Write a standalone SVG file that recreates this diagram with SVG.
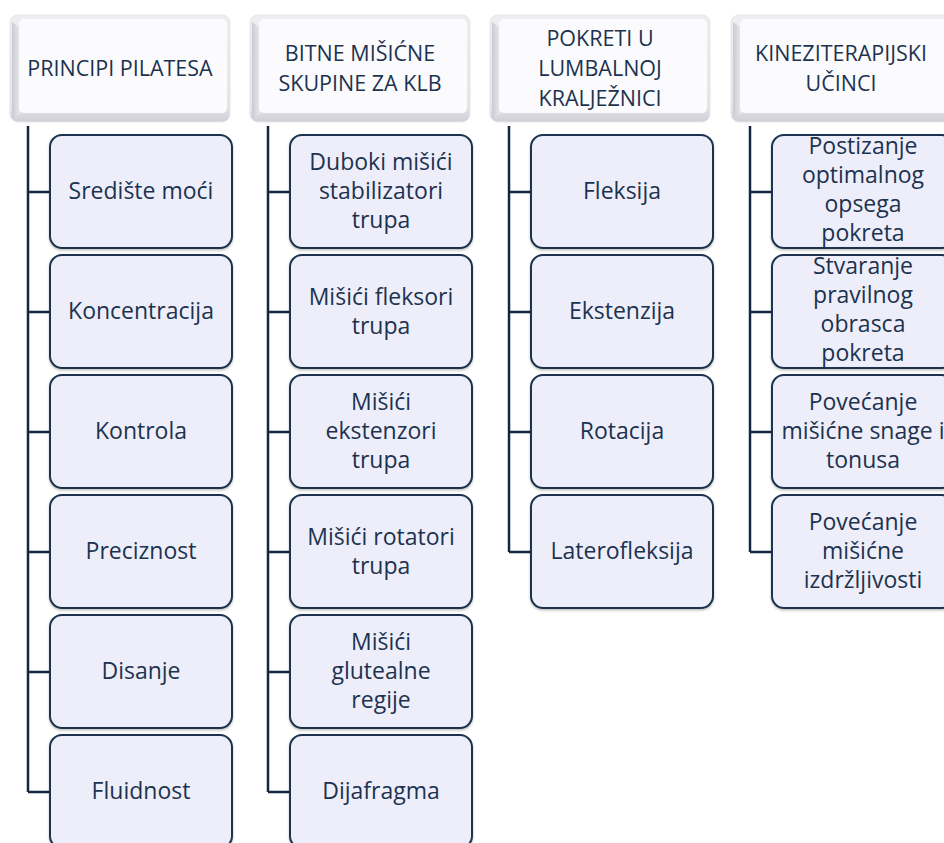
<svg xmlns="http://www.w3.org/2000/svg" width="944" height="843" viewBox="0 0 944 843">
<defs>
<linearGradient id="hb" x1="0" y1="0" x2="0" y2="1">
<stop offset="0" stop-color="#eeeef2"/>
<stop offset="0.85" stop-color="#e4e4e9"/>
<stop offset="1" stop-color="#cfcfd5"/>
</linearGradient>
<linearGradient id="hl" x1="0" y1="0" x2="1" y2="0">
<stop offset="0" stop-color="#cacad0"/>
<stop offset="1" stop-color="#ececf0"/>
</linearGradient>
<filter id="sh" x="-10%" y="-10%" width="120%" height="120%">
<feDropShadow dx="0" dy="1.5" stdDeviation="1.2" flood-color="#000" flood-opacity="0.25"/>
</filter>
</defs>
<style>
.hdr-o{fill:url(#hb);stroke:#e6e6ea;stroke-width:1}
.hdr-l{fill:url(#hl)}
.hdr-i{fill:#fbfbfd}
.box{fill:#eeeefa;stroke:#1c3350;stroke-width:2;filter:url(#sh)}
.t{font-family:"Open Sans","Noto Sans",sans-serif;font-size:23px;fill:#1c3350;text-anchor:middle}
.h{font-size:21.5px}
.c{fill:none;stroke:#102840;stroke-width:2.5}
</style>
<rect width="944" height="843" fill="#ffffff"/>

<g id="connectors">
<path class="c" d="M28,126 V792 M28,192 H50 M28,312 H50 M28,432 H50 M28,552 H50 M28,672 H50 M28,792 H50"/>
<path class="c" d="M268,126 V792 M268,192 H290 M268,312 H290 M268,432 H290 M268,552 H290 M268,672 H290 M268,792 H290"/>
<path class="c" d="M509,126 V552 M509,192 H531 M509,312 H531 M509,432 H531 M509,552 H531"/>
<path class="c" d="M750,126 V552 M750,192 H772 M750,312 H772 M750,432 H772 M750,552 H772"/>
</g>

<g id="h1">
<rect class="hdr-o" x="10" y="15" width="220" height="107" rx="8"/>
<path class="hdr-l" d="M12,22 L21,29 L21,113 L12,118 Z"/>
<rect class="hdr-i" x="19" y="19" width="208" height="94" rx="5"/>
<text class="t h" x="120" y="76">PRINCIPI PILATESA</text>
</g>
<g id="h2">
<rect class="hdr-o" x="250" y="15" width="220" height="107" rx="8"/>
<path class="hdr-l" d="M252,22 L261,29 L261,113 L252,118 Z"/>
<rect class="hdr-i" x="259" y="19" width="208" height="94" rx="5"/>
<text class="t h" x="360" y="61">BITNE MIŠIĆNE</text>
<text class="t h" x="360" y="91">SKUPINE ZA KLB</text>
</g>
<g id="h3">
<rect class="hdr-o" x="490" y="15" width="220" height="107" rx="8"/>
<path class="hdr-l" d="M492,22 L501,29 L501,113 L492,118 Z"/>
<rect class="hdr-i" x="499" y="19" width="208" height="94" rx="5"/>
<text class="t h" x="600" y="46">POKRETI U</text>
<text class="t h" x="600" y="76">LUMBALNOJ</text>
<text class="t h" x="600" y="106">KRALJEŽNICI</text>
</g>
<g id="h4">
<rect class="hdr-o" x="731" y="15" width="220" height="107" rx="8"/>
<path class="hdr-l" d="M733,22 L742,29 L742,113 L733,118 Z"/>
<rect class="hdr-i" x="740" y="19" width="208" height="94" rx="5"/>
<text class="t h" x="841" y="61">KINEZITERAPIJSKI</text>
<text class="t h" x="841" y="91">UČINCI</text>
</g>

<g id="c1n1"><rect class="box" x="50" y="135" width="182" height="113" rx="12"/><text class="t" x="141" y="199">Središte moći</text></g>
<g id="c1n2"><rect class="box" x="50" y="255" width="182" height="113" rx="12"/><text class="t" x="141" y="319">Koncentracija</text></g>
<g id="c1n3"><rect class="box" x="50" y="375" width="182" height="113" rx="12"/><text class="t" x="141" y="439">Kontrola</text></g>
<g id="c1n4"><rect class="box" x="50" y="495" width="182" height="113" rx="12"/><text class="t" x="141" y="559">Preciznost</text></g>
<g id="c1n5"><rect class="box" x="50" y="615" width="182" height="113" rx="12"/><text class="t" x="141" y="679">Disanje</text></g>
<g id="c1n6"><rect class="box" x="50" y="735" width="182" height="113" rx="12"/><text class="t" x="141" y="799">Fluidnost</text></g>

<g id="c2n1"><rect class="box" x="290" y="135" width="182" height="113" rx="12"/><text class="t" x="381" y="170">Duboki mišići</text><text class="t" x="381" y="199">stabilizatori</text><text class="t" x="381" y="228">trupa</text></g>
<g id="c2n2"><rect class="box" x="290" y="255" width="182" height="113" rx="12"/><text class="t" x="381" y="305">Mišići fleksori</text><text class="t" x="381" y="334">trupa</text></g>
<g id="c2n3"><rect class="box" x="290" y="375" width="182" height="113" rx="12"/><text class="t" x="381" y="410">Mišići</text><text class="t" x="381" y="439">ekstenzori</text><text class="t" x="381" y="468">trupa</text></g>
<g id="c2n4"><rect class="box" x="290" y="495" width="182" height="113" rx="12"/><text class="t" x="381" y="545">Mišići rotatori</text><text class="t" x="381" y="574">trupa</text></g>
<g id="c2n5"><rect class="box" x="290" y="615" width="182" height="113" rx="12"/><text class="t" x="381" y="650">Mišići</text><text class="t" x="381" y="679">glutealne</text><text class="t" x="381" y="708">regije</text></g>
<g id="c2n6"><rect class="box" x="290" y="735" width="182" height="113" rx="12"/><text class="t" x="381" y="799">Dijafragma</text></g>

<g id="c3n1"><rect class="box" x="531" y="135" width="182" height="113" rx="12"/><text class="t" x="622" y="199">Fleksija</text></g>
<g id="c3n2"><rect class="box" x="531" y="255" width="182" height="113" rx="12"/><text class="t" x="622" y="319">Ekstenzija</text></g>
<g id="c3n3"><rect class="box" x="531" y="375" width="182" height="113" rx="12"/><text class="t" x="622" y="439">Rotacija</text></g>
<g id="c3n4"><rect class="box" x="531" y="495" width="182" height="113" rx="12"/><text class="t" x="622" y="559">Laterofleksija</text></g>

<g id="c4n1"><rect class="box" x="772" y="135" width="182" height="113" rx="12"/><text class="t" x="863" y="154">Postizanje</text><text class="t" x="863" y="183">optimalnog</text><text class="t" x="863" y="212">opsega</text><text class="t" x="863" y="241">pokreta</text></g>
<g id="c4n2"><rect class="box" x="772" y="255" width="182" height="113" rx="12"/><text class="t" x="863" y="274">Stvaranje</text><text class="t" x="863" y="303">pravilnog</text><text class="t" x="863" y="332">obrasca</text><text class="t" x="863" y="361">pokreta</text></g>
<g id="c4n3"><rect class="box" x="772" y="375" width="182" height="113" rx="12"/><text class="t" x="863" y="410">Povećanje</text><text class="t" x="863" y="439">mišićne snage i</text><text class="t" x="863" y="468">tonusa</text></g>
<g id="c4n4"><rect class="box" x="772" y="495" width="182" height="113" rx="12"/><text class="t" x="863" y="530">Povećanje</text><text class="t" x="863" y="559">mišićne</text><text class="t" x="863" y="588">izdržljivosti</text></g>
</svg>
